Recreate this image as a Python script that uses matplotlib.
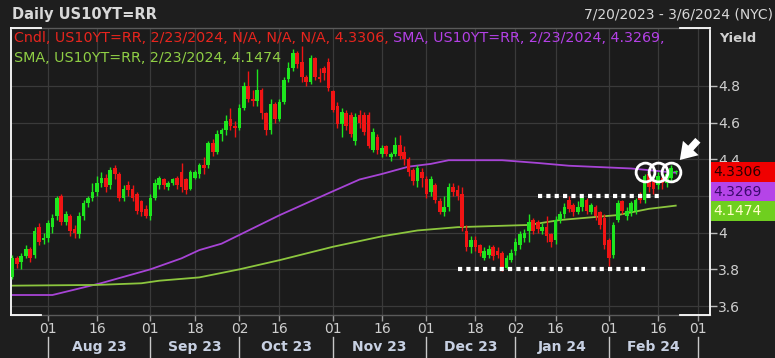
import numpy as np
import pandas as pd
import matplotlib
matplotlib.use('Agg')
import matplotlib.pyplot as plt
import matplotlib.transforms as mtransforms
from matplotlib.patches import Rectangle

plt.rcParams['font.family'] = ['DejaVu Sans']

# trading calendar, US bond market holidays removed
start_date = '2023-07-20'
end_date = '2024-03-06'
holidays = ['2023-09-04', '2023-10-09', '2023-11-23', '2023-12-25',
            '2024-01-01', '2024-01-15', '2024-02-19']

# daily candles from 7/20/2023 to 2/23/2024
opens = [
    3.76, 3.86, 3.84, 3.87, 3.91, 3.88, 4.03, 3.96,                      # Jul
    3.97, 4.03, 4.09, 4.20, 4.06, 4.09, 4.02, 3.99, 4.09, 4.16, 4.19, 4.22,
    4.27, 4.30, 4.26, 4.35, 4.32, 4.19, 4.26, 4.24, 4.21, 4.17, 4.13,    # Aug
    4.09, 4.19, 4.26, 4.29, 4.25, 4.27, 4.30, 4.33, 4.29, 4.24, 4.30, 4.32,
    4.37, 4.37, 4.49, 4.44, 4.54, 4.56, 4.62, 4.58,                      # Sep
    4.57, 4.68, 4.80, 4.73, 4.72, 4.78, 4.65, 4.56, 4.70, 4.62, 4.71, 4.84,
    4.90, 4.98, 4.93, 4.85, 4.82, 4.95, 4.85, 4.90, 4.93,                # Oct
    4.77, 4.69, 4.59, 4.65, 4.64, 4.50, 4.64, 4.64, 4.64, 4.45, 4.52, 4.43,
    4.47, 4.41, 4.43, 4.48, 4.44, 4.40, 4.34, 4.28, 4.33,                # Nov
    4.29, 4.22, 4.26, 4.17, 4.11, 4.14, 4.25, 4.23, 4.21, 4.01, 3.92, 3.96,
    3.93, 3.86, 3.88, 3.92, 3.90, 3.89, 3.81, 3.85,                      # Dec
    3.90, 3.93, 3.97, 4.01, 4.07, 4.06, 4.01, 4.03, 3.99, 3.96, 4.07, 4.10,
    4.18, 4.15, 4.11, 4.14, 4.18, 4.11, 4.14, 4.11, 4.08,                # Jan
    3.96, 3.88, 4.07, 4.17, 4.09, 4.11, 4.12, 4.21, 4.18, 4.32, 4.28, 4.26,
    4.30, 4.27, 4.30, 4.33,                                              # Feb
]
highs = [
    3.88, 3.87, 3.89, 3.93, 3.92, 4.03, 4.05, 4.00,
    4.07, 4.10, 4.20, 4.21, 4.12, 4.10, 4.04, 4.11, 4.18, 4.20, 4.27, 4.31,
    4.33, 4.32, 4.36, 4.37, 4.33, 4.26, 4.28, 4.26, 4.22, 4.18, 4.15,
    4.21, 4.29, 4.31, 4.30, 4.28, 4.30, 4.31, 4.38, 4.30, 4.34, 4.34, 4.38,
    4.41, 4.50, 4.51, 4.56, 4.57, 4.64, 4.68, 4.61,
    4.70, 4.82, 4.88, 4.78, 4.89, 4.79, 4.66, 4.73, 4.71, 4.73, 4.85, 4.93,
    5.00, 4.99, 5.02, 4.86, 4.97, 4.96, 4.90, 4.91, 4.95,
    4.78, 4.71, 4.68, 4.67, 4.66, 4.65, 4.67, 4.66, 4.66, 4.57, 4.54, 4.48,
    4.48, 4.44, 4.52, 4.53, 4.47, 4.41, 4.35, 4.37, 4.35,
    4.31, 4.31, 4.27, 4.19, 4.20, 4.27, 4.27, 4.26, 4.25, 4.04, 3.98, 3.98,
    3.94, 3.92, 3.93, 3.93, 3.92, 3.90, 3.88, 3.91,
    3.97, 4.01, 4.02, 4.10, 4.08, 4.07, 4.05, 4.09, 4.00, 4.09, 4.12, 4.16,
    4.20, 4.16, 4.17, 4.21, 4.19, 4.16, 4.15, 4.12, 4.10,
    3.97, 4.06, 4.18, 4.18, 4.14, 4.17, 4.19, 4.22, 4.32, 4.34, 4.29, 4.33,
    4.31, 4.34, 4.37, 4.34,
]
lows = [
    3.75, 3.81, 3.80, 3.86, 3.84, 3.86, 3.93, 3.94,
    3.95, 4.00, 4.07, 4.04, 4.04, 3.98, 3.97, 3.97, 4.07, 4.14, 4.17, 4.20,
    4.25, 4.22, 4.24, 4.29, 4.17, 4.17, 4.20, 4.17, 4.10, 4.09, 4.08,
    4.07, 4.18, 4.24, 4.24, 4.23, 4.26, 4.24, 4.22, 4.21, 4.23, 4.29, 4.30,
    4.32, 4.35, 4.42, 4.43, 4.50, 4.53, 4.56, 4.52,
    4.56, 4.67, 4.71, 4.69, 4.69, 4.62, 4.53, 4.54, 4.60, 4.61, 4.70, 4.82,
    4.88, 4.90, 4.82, 4.80, 4.81, 4.83, 4.82, 4.83, 4.77,
    4.66, 4.57, 4.52, 4.56, 4.52, 4.48, 4.57, 4.53, 4.46, 4.44, 4.43, 4.41,
    4.42, 4.39, 4.42, 4.40, 4.37, 4.31, 4.26, 4.25, 4.25,
    4.19, 4.20, 4.16, 4.10, 4.09, 4.12, 4.20, 4.18, 4.01, 3.90, 3.89, 3.90,
    3.87, 3.85, 3.86, 3.85, 3.86, 3.79, 3.80, 3.84,
    3.88, 3.91, 3.95, 3.95, 3.99, 4.00, 3.99, 3.95, 3.92, 3.94, 4.05, 4.08,
    4.11, 4.09, 4.10, 4.12, 4.10, 4.10, 4.07, 4.02, 3.91,
    3.82, 3.86, 4.06, 4.10, 4.07, 4.09, 4.10, 4.16, 4.16, 4.22, 4.21, 4.24,
    4.24, 4.25, 4.28, 4.32,
]
closes = [
    3.86, 3.83, 3.87, 3.91, 3.86, 4.01, 3.95, 3.97,
    4.05, 4.08, 4.19, 4.06, 4.10, 4.01, 4.00, 4.09, 4.16, 4.19, 4.22, 4.27,
    4.30, 4.25, 4.34, 4.32, 4.19, 4.24, 4.23, 4.19, 4.12, 4.11, 4.09,
    4.19, 4.27, 4.30, 4.26, 4.27, 4.29, 4.26, 4.25, 4.23, 4.33, 4.33, 4.37,
    4.35, 4.49, 4.44, 4.54, 4.56, 4.61, 4.58, 4.57,
    4.68, 4.80, 4.73, 4.72, 4.78, 4.65, 4.56, 4.70, 4.62, 4.71, 4.83, 4.90,
    4.98, 4.92, 4.85, 4.82, 4.95, 4.85, 4.84, 4.87, 4.79,
    4.67, 4.59, 4.66, 4.58, 4.54, 4.63, 4.60, 4.55, 4.47, 4.55, 4.45, 4.46,
    4.43, 4.43, 4.48, 4.42, 4.40, 4.33, 4.28, 4.35, 4.30,
    4.21, 4.29, 4.18, 4.11, 4.14, 4.25, 4.22, 4.20, 4.03, 3.92, 3.96, 3.92,
    3.89, 3.90, 3.91, 3.87, 3.88, 3.81, 3.86, 3.89,
    3.95, 3.99, 4.00, 4.06, 4.01, 4.02, 4.03, 3.98, 3.95, 4.07, 4.10, 4.14,
    4.13, 4.11, 4.14, 4.19, 4.12, 4.15, 4.09, 4.04, 3.93,
    3.86, 4.04, 4.16, 4.12, 4.12, 4.16, 4.18, 4.18, 4.31, 4.25, 4.24, 4.31,
    4.27, 4.32, 4.35, 4.3306,
]

# moving averages (date, value)
sma_purple_dates = ['2023-07-20', '2023-08-02', '2023-08-17', '2023-09-01', '2023-09-13',
                    '2023-09-19', '2023-09-26', '2023-10-16', '2023-10-31', '2023-11-09',
                    '2023-11-16', '2023-11-27', '2023-12-04', '2023-12-08', '2023-12-27',
                    '2024-01-09', '2024-01-19', '2024-02-08', '2024-02-23']
sma_purple = [3.66, 3.66, 3.725, 3.80, 3.86, 3.905, 3.94, 4.095, 4.215, 4.29,
              4.32, 4.36, 4.375, 4.395, 4.395, 4.38, 4.365, 4.35, 4.3269]
sma_green_dates = ['2023-07-20', '2023-08-16', '2023-08-30', '2023-09-06', '2023-09-14',
                   '2023-09-19', '2023-10-02', '2023-10-16', '2023-11-01', '2023-11-16',
                   '2023-11-29', '2023-12-12', '2024-01-05', '2024-01-17', '2024-02-05',
                   '2024-02-14', '2024-02-23']
sma_green = [3.711, 3.715, 3.724, 3.738, 3.75, 3.756, 3.80, 3.85, 3.923, 3.98,
             4.012, 4.03, 4.042, 4.069, 4.096, 4.13, 4.1474]

# annotations
support = (3.80, '2023-12-12', '2024-02-13')
resistance = (4.20, '2024-01-09', '2024-02-20')
circle_dates = ['2024-02-13', '2024-02-16', '2024-02-22']
circle_level = 4.33

tick_dates = ['2023-08-01', '2023-08-16', '2023-09-01', '2023-09-18', '2023-10-02',
              '2023-10-16', '2023-11-01', '2023-11-16', '2023-12-01', '2023-12-18',
              '2024-01-02', '2024-01-16', '2024-02-01', '2024-02-16', '2024-03-01']
tick_labels = ['01', '16', '01', '18', '02', '16', '01', '16', '01', '18',
               '02', '16', '01', '16', '01']
month_starts = ['2023-08-01', '2023-09-01', '2023-10-02', '2023-11-01',
                '2023-12-01', '2024-01-02', '2024-02-01', '2024-03-01']
month_labels = ['Aug 23', 'Sep 23', 'Oct 23', 'Nov 23', 'Dec 23', 'Jan 24', 'Feb 24']
y_ticks = [3.6, 3.8, 4.0, 4.2, 4.4, 4.6, 4.8]
# 4.2 sits behind the value boxes in the original, so it has no visible label
y_labels = ['3.6', '3.8', '4', '', '4.4', '4.6', '4.8']

UP = '#1ee61e'
DOWN = '#f01414'
PURPLE = '#a744d6'
GREEN = '#8cc63e'
BG = '#1e1e1e'

days = pd.bdate_range(start_date, end_date, freq='C', holidays=holidays)
pos = {d.strftime('%Y-%m-%d'): i for i, d in enumerate(days)}
n = len(closes)
x = np.arange(n)

o = np.array(opens)
h = np.array(highs)
l = np.array(lows)
c = np.array(closes)
up = c >= o
colors = np.where(up, UP, DOWN)

fig = plt.figure(figsize=(7.75, 3.58), dpi=100, facecolor=BG)
W, H = 775, 358
ax = fig.add_axes([11 / W, 1 - 315 / H, 699 / W, 287 / H], facecolor='#1b1b1b')

ax.set_xlim(-0.3, pos[end_date] - 0.3)
ax.set_ylim(3.551, 5.116)

ax.grid(True, color='#3a3a3a', lw=0.9)
ax.set_axisbelow(True)

# candles
ax.vlines(x, l, h, colors=colors, lw=1.0, zorder=3)
body_low = np.minimum(o, c)
body_h = np.maximum(np.abs(c - o), 0.005)
ax.bar(x, body_h, bottom=body_low, width=0.82, color=colors, lw=0, zorder=4)

# moving averages
ax.plot([pos[d] for d in sma_purple_dates], sma_purple, color=PURPLE, lw=1.3, zorder=2)
ax.plot([pos[d] for d in sma_green_dates], sma_green, color=GREEN, lw=1.3, zorder=2)

# support / resistance dots
for lvl, d0, d1 in [support, resistance]:
    ax.hlines(lvl, pos[d0], pos[d1], colors='white', lw=3, linestyles=(0, (1, 1)), zorder=5)

# circles and arrow
ax.plot([pos[d] for d in circle_dates], [circle_level] * len(circle_dates), 'o',
        ms=13.5, mfc='none', mec='white', mew=2.0, zorder=6)
ax.annotate('', xy=(pos['2024-02-23'] + 0.5, 4.385), xytext=(pos['2024-03-01'] + 0.4, 4.515),
            arrowprops=dict(arrowstyle='simple,head_length=0.65,head_width=0.85,tail_width=0.28',
                            mutation_scale=18, color='white', lw=0),
            zorder=7, annotation_clip=False)

# axes frame
for side in ['top', 'bottom']:
    ax.spines[side].set_color('#5a5a5a')
    ax.spines[side].set_linewidth(1)
for side in ['left', 'right']:
    ax.spines[side].set_color('white')
    ax.spines[side].set_linewidth(1.3)
seg = 30 / 699
for yy in [0, 1]:
    for xs in [(0, seg), (1 - seg, 1)]:
        ax.plot(xs, [yy, yy], color='white', lw=1.3, transform=ax.transAxes,
                clip_on=False, zorder=8)

# y axis
ax.yaxis.tick_right()
ax.set_yticks(y_ticks)
ax.set_yticklabels(y_labels)
ax.tick_params(axis='y', colors='#bdbdbd', labelcolor='#cfcfcf', labelsize=10,
               length=5, width=1, pad=1)

# x axis
ax.set_xticks([pos[d] for d in tick_dates])
ax.set_xticklabels(tick_labels)
ax.tick_params(axis='x', colors='#9a9a9a', labelcolor='#cfcfcf', labelsize=10,
               length=4, width=1, pad=1)

trans = mtransforms.blended_transform_factory(ax.transData, ax.transAxes)
ms_x = [pos[d] for d in month_starts]
for xm in ms_x:
    ax.plot([xm, xm], [-22 / 287, -44 / 287], color='#c8c8c8', lw=1,
            transform=trans, clip_on=False)
for i, lab in enumerate(month_labels):
    ax.text((ms_x[i] + ms_x[i + 1]) / 2, -32 / 287, lab, transform=trans,
            ha='center', va='center', fontsize=10, fontweight='bold', color='#c7d0e2')

# header texts
fig.text(12 / W, 1 - 15 / H, 'Daily US10YT=RR', fontsize=10.5, fontweight='bold',
         color='#d8d8d8', va='center', ha='left')
fig.text(773 / W, 1 - 14 / H, '7/20/2023 - 3/6/2024 (NYC)', fontsize=10,
         color='#d8d8d8', va='center', ha='right')
fig.text(719 / W, 1 - 39 / H, 'Yield', fontsize=9.5, fontweight='bold',
         color='#d0d0d0', va='center', ha='left')

# legend lines
renderer = fig.canvas.get_renderer()
t1 = fig.text(14 / W, 1 - 38 / H, 'Cndl, US10YT=RR, 2/23/2024, N/A, N/A, N/A, 4.3306, ',
              fontsize=10.3, color='#e8251e', va='center', ha='left')
ext = t1.get_window_extent(renderer)
fig.text(ext.x1 / W, 1 - 38 / H, 'SMA, US10YT=RR, 2/23/2024, 4.3269,',
         fontsize=10.3, color='#b441e6', va='center', ha='left')
fig.text(14 / W, 1 - 58 / H, 'SMA, US10YT=RR, 2/23/2024, 4.1474',
         fontsize=10.3, color='#8fcf45', va='center', ha='left')

# last value boxes on the right axis
box_h = 19.5
y_last = ax.transData.transform((0, closes[-1]))[1]
boxes = [(f'{closes[-1]:.4f}', '#f00000', '#2a0000'),
         (f'{sma_purple[-1]:.4f}', '#b544e8', '#3c0a70'),
         (f'{sma_green[-1]:.4f}', '#6fcf1f', '#ffffc8')]
for k, (txt, fc, tc) in enumerate(boxes):
    yc = y_last - k * box_h
    fig.add_artist(Rectangle((711 / W, (yc - box_h / 2) / H), 64 / W, box_h / H,
                             transform=fig.transFigure, facecolor=fc, edgecolor='none',
                             zorder=5))
    fig.text(713 / W, yc / H, txt, fontsize=10, color=tc, va='center', ha='left', zorder=6)

fig.savefig('out.png', dpi=100, facecolor=fig.get_facecolor())
